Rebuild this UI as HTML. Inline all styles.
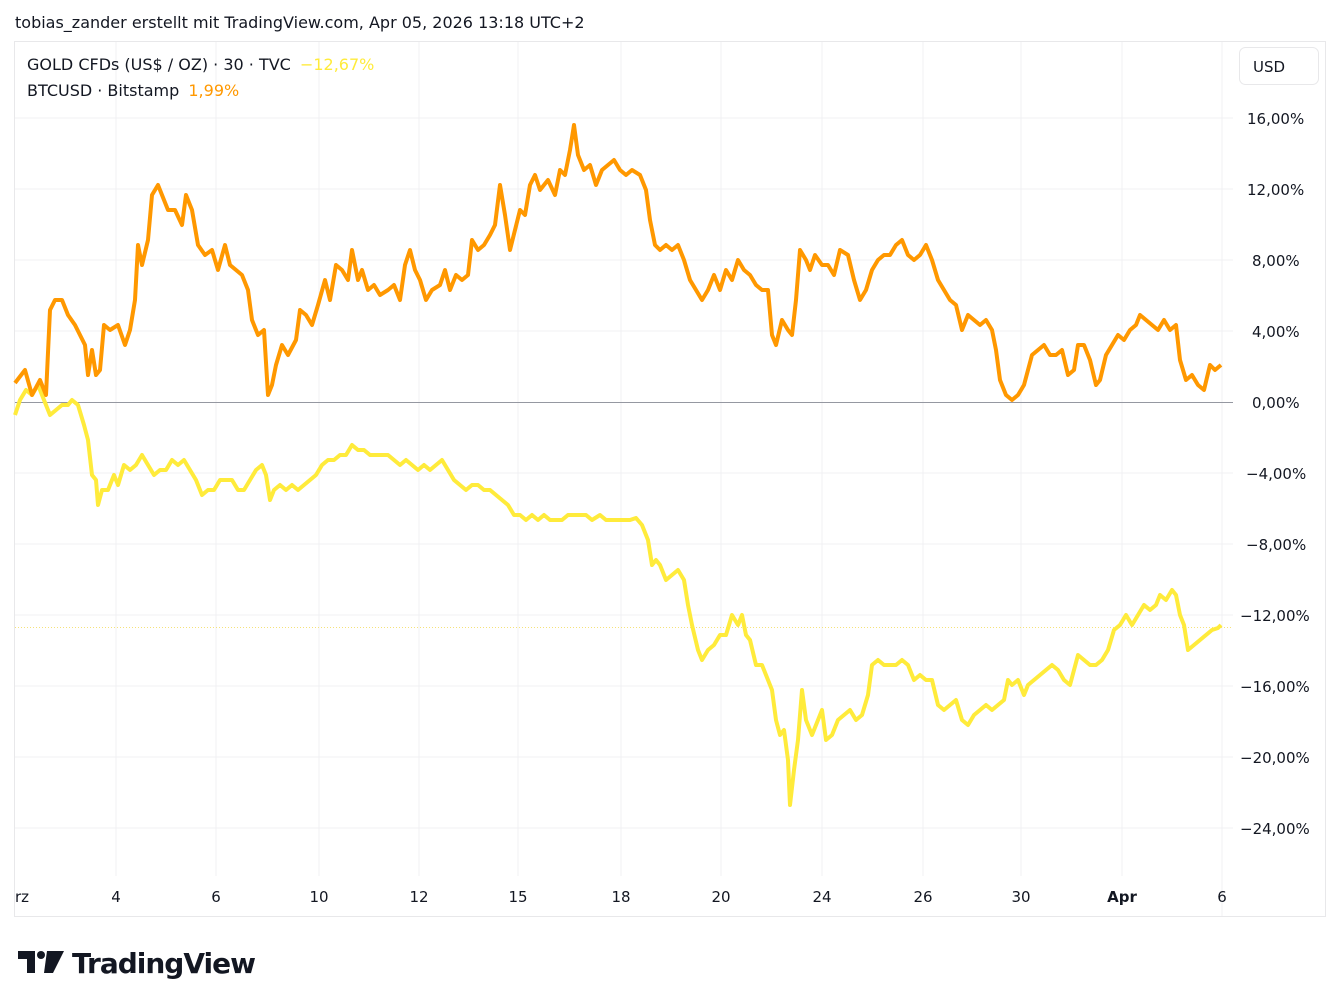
<!DOCTYPE html>
<html><head><meta charset="utf-8"><style>
html,body{margin:0;padding:0;background:#fff;width:1341px;height:1007px;overflow:hidden}
svg text{font-family:"DejaVu Sans","Liberation Sans",sans-serif}
</style></head><body>
<svg width="1341" height="1007" viewBox="0 0 1341 1007" xmlns="http://www.w3.org/2000/svg">
<text x="15" y="28" font-size="16" fill="#131722">tobias_zander erstellt mit TradingView.com, Apr 05, 2026 13:18 UTC+2</text>
<rect x="14.5" y="41.5" width="1311" height="875" fill="none" stroke="#e8e8ea"/>
<g stroke="#f0f1f3" stroke-width="1">
<line x1="116" y1="42" x2="116" y2="876"/><line x1="216" y1="42" x2="216" y2="876"/><line x1="319" y1="42" x2="319" y2="876"/><line x1="419" y1="42" x2="419" y2="876"/><line x1="518" y1="42" x2="518" y2="876"/><line x1="621" y1="42" x2="621" y2="876"/><line x1="721" y1="42" x2="721" y2="876"/><line x1="822" y1="42" x2="822" y2="876"/><line x1="923" y1="42" x2="923" y2="876"/><line x1="1021" y1="42" x2="1021" y2="876"/><line x1="1122" y1="42" x2="1122" y2="876"/><line x1="1222" y1="42" x2="1222" y2="916"/>
<line x1="15" y1="118" x2="1233" y2="118"/><line x1="15" y1="189" x2="1233" y2="189"/><line x1="15" y1="260" x2="1233" y2="260"/><line x1="15" y1="331" x2="1233" y2="331"/><line x1="15" y1="473" x2="1233" y2="473"/><line x1="15" y1="544" x2="1233" y2="544"/><line x1="15" y1="615" x2="1233" y2="615"/><line x1="15" y1="686" x2="1233" y2="686"/><line x1="15" y1="757" x2="1233" y2="757"/><line x1="15" y1="828" x2="1233" y2="828"/>
</g>
<line x1="15" y1="402.5" x2="1233" y2="402.5" stroke="#9598a1" stroke-width="1"/>
<line x1="15" y1="627.5" x2="1233" y2="627.5" stroke="#f5e27a" stroke-width="1" stroke-dasharray="1,2"/>
<polyline fill="none" stroke="#ffeb3b" stroke-width="4" stroke-linejoin="round" points="15,415 20,400 26,390 32,395 38,385 44,400 50,415 56,410 62,405 68,405 72,400 78,405 84,425 88,440 92,475 96,480 98,505 102,490 108,490 114,475 118,485 124,465 130,470 136,465 142,455 148,465 154,475 160,470 166,470 172,460 178,465 184,460 190,470 196,480 202,495 208,490 214,490 220,480 226,480 232,480 238,490 244,490 250,480 256,470 262,465 266,475 270,500 274,490 280,485 286,490 292,485 298,490 304,485 310,480 316,475 322,465 328,460 334,460 340,455 346,455 352,445 358,450 364,450 370,455 376,455 382,455 388,455 394,460 400,465 406,460 412,465 418,470 424,465 430,470 436,465 442,460 448,470 454,480 460,485 466,490 472,485 478,485 484,490 490,490 496,495 502,500 508,505 514,515 520,515 526,520 532,515 538,520 544,515 550,520 556,520 562,520 568,515 574,515 580,515 586,515 592,520 600,515 606,520 612,520 618,520 624,520 630,520 636,518 642,525 648,540 652,565 656,560 660,565 666,580 672,575 678,570 684,580 688,605 692,625 698,650 702,660 708,650 714,645 720,635 726,635 732,615 738,625 742,615 746,635 750,640 756,665 762,665 768,680 772,690 776,720 780,735 784,730 788,760 790,805 794,770 798,740 802,690 806,720 812,735 818,720 822,710 826,740 832,735 838,720 844,715 850,710 856,720 862,715 868,695 872,665 878,660 884,665 890,665 896,665 902,660 908,665 914,680 920,675 926,680 932,680 938,705 944,710 950,705 956,700 962,720 968,725 974,715 980,710 986,705 992,710 998,705 1004,700 1008,680 1012,685 1018,680 1024,695 1028,685 1034,680 1040,675 1046,670 1052,665 1058,670 1064,680 1070,685 1074,670 1078,655 1084,660 1090,665 1096,665 1102,660 1108,650 1114,630 1120,625 1126,615 1132,625 1138,615 1144,605 1150,610 1156,605 1160,595 1166,600 1172,590 1176,595 1180,615 1184,625 1188,650 1194,645 1200,640 1206,635 1212,630 1218,628 1221,625"/>
<polyline fill="none" stroke="#ff9800" stroke-width="4" stroke-linejoin="round" points="15,383 25,370 32,395 40,380 46,395 50,310 55,300 62,300 68,315 75,325 80,335 85,345 88,375 92,350 96,375 100,370 104,325 110,330 118,325 125,345 130,330 135,300 138,245 142,265 148,240 152,195 158,185 162,195 168,210 175,210 182,225 186,195 192,210 198,245 205,255 212,250 218,270 225,245 230,265 236,270 242,275 248,290 252,320 258,335 264,330 268,395 272,385 276,365 282,345 288,355 296,340 300,310 306,315 312,325 318,305 325,280 330,300 336,265 342,270 348,280 352,250 358,280 362,270 368,290 374,285 380,295 388,290 394,285 400,300 405,265 410,250 415,270 420,280 426,300 432,290 440,285 445,270 450,290 456,275 462,280 468,275 472,240 478,250 484,245 490,235 495,225 500,185 505,215 510,250 515,230 520,210 525,215 530,185 535,175 540,190 548,180 555,195 560,170 565,175 570,150 574,125 578,155 584,170 590,165 596,185 602,170 608,165 614,160 620,170 626,175 632,170 640,175 646,190 650,220 655,245 660,250 666,245 672,250 678,245 684,260 690,280 696,290 702,300 708,290 714,275 720,290 726,270 732,280 738,260 744,270 750,275 756,285 762,290 768,290 772,335 776,345 782,320 788,330 792,335 796,300 800,250 806,260 810,270 815,255 822,265 828,265 834,275 840,250 848,255 854,280 860,300 866,290 872,270 878,260 884,255 890,255 896,245 902,240 908,255 914,260 920,255 926,245 932,260 938,280 944,290 950,300 956,305 962,330 968,315 974,320 980,325 986,320 992,330 996,350 1000,380 1006,395 1012,400 1018,395 1024,385 1028,370 1032,355 1038,350 1044,345 1050,355 1056,355 1062,350 1068,375 1074,370 1078,345 1084,345 1090,360 1096,385 1100,380 1106,355 1112,345 1118,335 1124,340 1130,330 1136,325 1140,315 1146,320 1152,325 1158,330 1164,320 1170,330 1176,325 1180,360 1186,380 1192,375 1198,385 1204,390 1210,365 1215,370 1221,365"/>
<text x="27" y="70" font-size="16" fill="#131722">GOLD CFDs (US$ / OZ) · 30 · TVC <tspan fill="#ffeb3b" dx="4">−12,67%</tspan></text>
<text x="27" y="96" font-size="16" fill="#131722">BTCUSD · Bitstamp <tspan fill="#ff9800" dx="4">1,99%</tspan></text>
<rect x="1239.5" y="47.5" width="79" height="37" rx="6" fill="#fff" stroke="#e8e8ea"/>
<text x="1253" y="72" font-size="15" fill="#131722">USD</text>
<g font-size="15" fill="#131722">
<text x="1247" y="124">16,00%</text><text x="1247" y="195">12,00%</text><text x="1252" y="266">8,00%</text><text x="1252" y="337">4,00%</text><text x="1252" y="408">0,00%</text><text x="1246" y="479">−4,00%</text><text x="1246" y="550">−8,00%</text><text x="1240" y="621">−12,00%</text><text x="1240" y="692">−16,00%</text><text x="1240" y="763">−20,00%</text><text x="1240" y="834">−24,00%</text>
</g>
<g font-size="15" fill="#131722" text-anchor="middle">
<text x="22" y="902">rz</text><text x="116" y="902">4</text><text x="216" y="902">6</text><text x="319" y="902">10</text><text x="419" y="902">12</text><text x="518" y="902">15</text><text x="621" y="902">18</text><text x="721" y="902">20</text><text x="822" y="902">24</text><text x="923" y="902">26</text><text x="1021" y="902">30</text><text x="1122" y="902" font-weight="bold">Apr</text><text x="1222" y="902">6</text>
</g>
<g fill="#131722">
<path d="M18 951h17v22h-8v-14h-9z"/><circle cx="41" cy="955" r="4"/><path d="M47 951h17l-11 22h-9z"/>
</g>
<text x="72" y="973" font-size="28" font-weight="bold" fill="#131722" letter-spacing="-1" textLength="183" lengthAdjust="spacingAndGlyphs">TradingView</text>
</svg>
</body></html>
